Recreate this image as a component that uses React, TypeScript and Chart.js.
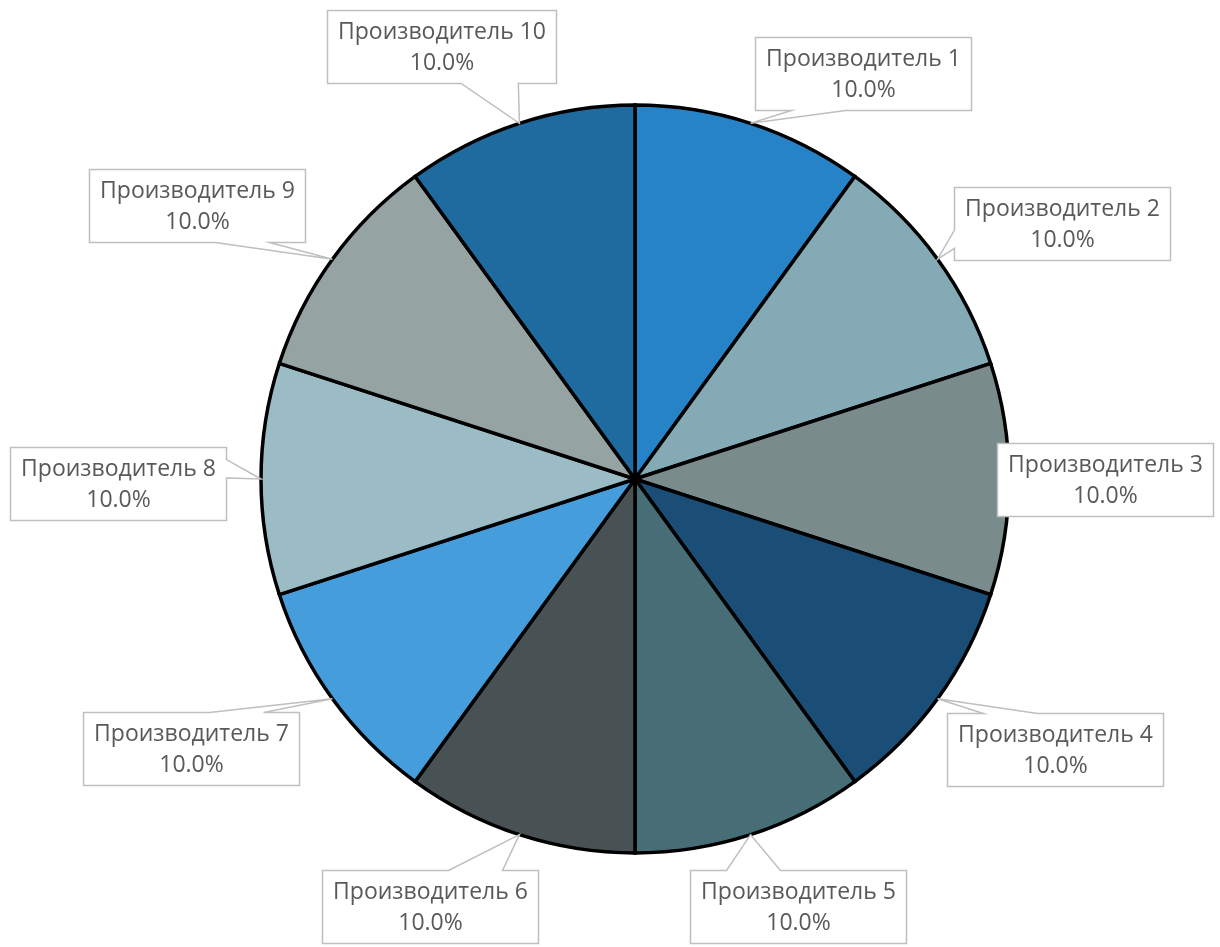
import React, { useEffect, useRef } from "react";
import { Chart, registerables } from "chart.js";

Chart.register(...registerables);

const categories = [
  "Производитель 1",
  "Производитель 2",
  "Производитель 3",
  "Производитель 4",
  "Производитель 5",
  "Производитель 6",
  "Производитель 7",
  "Производитель 8",
  "Производитель 9",
  "Производитель 10",
];
const values = [10, 10, 10, 10, 10, 10, 10, 10, 10, 10];
const colors = [
  "#2783c7",
  "#84abb5",
  "#7a8b8c",
  "#1a4e77",
  "#476d76",
  "#485153",
  "#469ddb",
  "#9cbcc5",
  "#96a3a3",
  "#1f6a9f",
];
// label box centre offsets from the slice's edge point (layout only)
const labelOffsets: [number, number][] = [
  [112, -50],
  [124, -36],
  [96, 0],
  [117, 51],
  [47, 72],
  [-89, 72],
  [-141, 50],
  [-143, 4],
  [-135, -54],
  [-78, -77],
];

const FONT_SIZE = 23;
const FONT = `${FONT_SIZE}px "Open Sans", sans-serif`;

const calloutPlugin = {
  id: "callouts",
  afterDatasetsDraw(chart: any) {
    const ctx = chart.ctx as CanvasRenderingContext2D;
    const meta = chart.getDatasetMeta(0);
    const total = values.reduce((a, b) => a + b, 0);
    ctx.save();
    ctx.font = FONT;
    meta.data.forEach((el: any, i: number) => {
      const { x, y, startAngle, endAngle, outerRadius } = el.getProps(
        ["x", "y", "startAngle", "endAngle", "outerRadius"],
        true
      );
      const mid = (startAngle + endAngle) / 2;
      const ax = x + Math.cos(mid) * outerRadius;
      const ay = y + Math.sin(mid) * outerRadius;
      const line1 = categories[i];
      const line2 = ((values[i] / total) * 100).toFixed(1) + "%";
      const tw = Math.max(ctx.measureText(line1).width, ctx.measureText(line2).width);
      const w = Math.round(tw + 21);
      const h = 73;
      const cx = ax + labelOffsets[i][0];
      const cy = ay + labelOffsets[i][1];
      const bx = Math.round(cx - w / 2) + 0.5;
      const by = Math.round(cy - h / 2) + 0.5;

      const dx = ax - cx;
      const dy = ay - cy;
      const inside = Math.abs(dx) < w / 2 && Math.abs(dy) < h / 2;
      const pts: [number, number][] = [];
      const horiz = Math.abs(dx) / w > Math.abs(dy) / h;
      const segH = dx < 0 ? [2 / 12, 5 / 12] : [7 / 12, 10 / 12];
      const segV = dy < 0 ? [2 / 12, 5 / 12] : [7 / 12, 10 / 12];
      pts.push([bx, by]);
      if (!inside && !horiz && dy < 0) {
        pts.push([bx + w * segH[0], by]);
        pts.push([ax, ay]);
        pts.push([bx + w * segH[1], by]);
      }
      pts.push([bx + w, by]);
      if (!inside && horiz && dx > 0) {
        pts.push([bx + w, by + h * segV[0]]);
        pts.push([ax, ay]);
        pts.push([bx + w, by + h * segV[1]]);
      }
      pts.push([bx + w, by + h]);
      if (!inside && !horiz && dy > 0) {
        pts.push([bx + w * segH[1], by + h]);
        pts.push([ax, ay]);
        pts.push([bx + w * segH[0], by + h]);
      }
      pts.push([bx, by + h]);
      if (!inside && horiz && dx < 0) {
        pts.push([bx, by + h * segV[1]]);
        pts.push([ax, ay]);
        pts.push([bx, by + h * segV[0]]);
      }
      ctx.beginPath();
      pts.forEach((p, k) => (k === 0 ? ctx.moveTo(p[0], p[1]) : ctx.lineTo(p[0], p[1])));
      ctx.closePath();
      ctx.fillStyle = "#ffffff";
      ctx.fill();
      ctx.strokeStyle = "#bfbfbf";
      ctx.lineWidth = 1.5;
      ctx.lineJoin = "miter";
      ctx.stroke();

      ctx.fillStyle = "#595959";
      ctx.textAlign = "center";
      ctx.textBaseline = "middle";
      const tcx = bx + w / 2;
      const tcy = by + h / 2;
      ctx.fillText(line1, tcx, tcy - 15);
      ctx.fillText(line2, tcx, tcy + 16);
    });
    ctx.restore();
  },
};

export default function App() {
  const ref = useRef<HTMLCanvasElement | null>(null);
  useEffect(() => {
    document.body.style.margin = "0";
    const canvas = ref.current;
    if (!canvas) return;
    const chart = new Chart(canvas, {
      type: "pie",
      data: {
        labels: categories,
        datasets: [
          {
            data: values,
            backgroundColor: colors,
            borderColor: "#000000",
            borderWidth: 3.5,
            borderJoinStyle: "miter",
          } as any,
        ],
      },
      options: {
        responsive: false,
        animation: false,
        radius: 374,
        layout: { padding: { left: 50, top: 11, right: 0, bottom: 0 } },
        plugins: {
          legend: { display: false },
          tooltip: { enabled: false },
          title: { display: false },
        },
      } as any,
      plugins: [calloutPlugin],
    });
    return () => chart.destroy();
  }, []);
  return (
    <div style={{ width: 1220, height: 947, background: "#ffffff" }}>
      <canvas ref={ref} width={1220} height={947} style={{ display: "block" }} />
    </div>
  );
}
